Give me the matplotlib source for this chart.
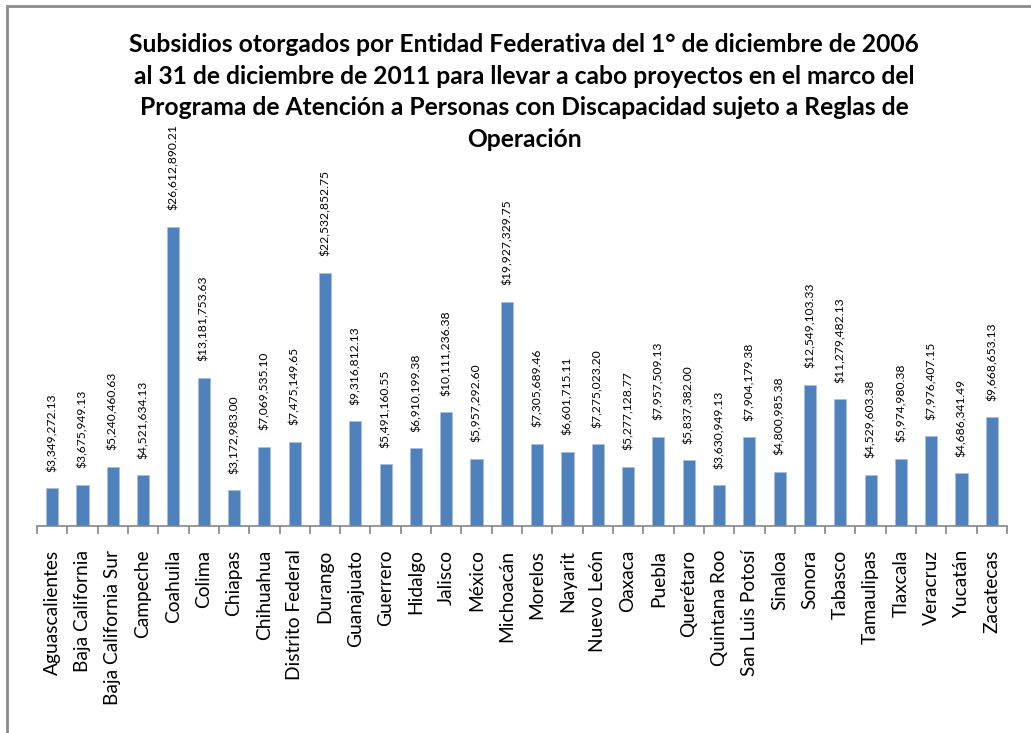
import matplotlib.pyplot as plt
from matplotlib.patches import Rectangle
import numpy as np

plt.rcParams['font.family'] = ['Lato', 'DejaVu Sans']

estados = ['Aguascalientes', 'Baja California', 'Baja California Sur', 'Campeche',
           'Coahuila', 'Colima', 'Chiapas', 'Chihuahua', 'Distrito Federal',
           'Durango', 'Guanajuato', 'Guerrero', 'Hidalgo', 'Jalisco', 'México',
           'Michoacán', 'Morelos', 'Nayarit', 'Nuevo León', 'Oaxaca', 'Puebla',
           'Querétaro', 'Quintana Roo', 'San Luis Potosí', 'Sinaloa', 'Sonora',
           'Tabasco', 'Tamaulipas', 'Tlaxcala', 'Veracruz', 'Yucatán', 'Zacatecas']
subsidios = [3349272.13, 3675949.13, 5240460.63, 4521634.13, 26612890.21,
             13181753.63, 3172983.00, 7069535.10, 7475149.65, 22532852.75,
             9316812.13, 5491160.55, 6910199.38, 10111236.38, 5957292.60,
             19927329.75, 7305689.46, 6601715.11, 7275023.20, 5277128.77,
             7957509.13, 5837382.00, 3630949.13, 7904179.38, 4800985.38,
             12549103.33, 11279482.13, 4529603.38, 5974980.38, 7976407.15,
             4686341.49, 9668653.13]

titulo = ['Subsidios otorgados por Entidad Federativa del 1° de diciembre de 2006',
          'al 31 de diciembre de 2011 para llevar a cabo proyectos en el marco del',
          'Programa de Atención a Personas con Discapacidad sujeto a Reglas de',
          'Operación']

W, H = 1031, 733
fig = plt.figure(figsize=(W / 100, H / 100), dpi=100)
ax = fig.add_axes([37 / W, 1 - 526 / H, (1007 - 37) / W, (526 - 189) / H])

x = np.arange(len(estados))
ax.bar(x, subsidios, width=0.4, color='#4F81BD', edgecolor='#A7BFDE', linewidth=0.6)

# etiquetas de valor encima de cada barra
for xi, v in zip(x, subsidios):
    ax.annotate(f'${v:,.2f}', (xi, v), xytext=(0, 12), textcoords='offset points',
                rotation=90, ha='center', va='bottom', fontsize=8.7,
                annotation_clip=False)

ax.set_xlim(-0.5, len(estados) - 0.5)
ax.set_ylim(0, 30e6)
ax.set_yticks([])
for s in ['top', 'right', 'left']:
    ax.spines[s].set_visible(False)
ax.spines['bottom'].set_color('#868686')
ax.spines['bottom'].set_linewidth(1.2)

ax.set_xticks(np.arange(len(estados) + 1) - 0.5)
ax.set_xticklabels([])
ax.tick_params(axis='x', which='major', length=6, color='#868686', width=1.2)
ax.set_xticks(x, minor=True)
ax.set_xticklabels(estados, minor=True, rotation=90, fontsize=13.8)
ax.tick_params(axis='x', which='minor', length=0, pad=17)

for i, linea in enumerate(titulo):
    fig.text(524 / W, 1 - (52 + 31.7 * i) / H, linea, ha='center', va='baseline',
             fontsize=17.7, fontweight='bold')

fig.patches.append(Rectangle((7 / W, -0.1), 1.2, 1 - 6 / H + 0.1,
                             transform=fig.transFigure, fill=False,
                             edgecolor='#8C8C8C', linewidth=2))

fig.savefig('out.png', dpi=100)
